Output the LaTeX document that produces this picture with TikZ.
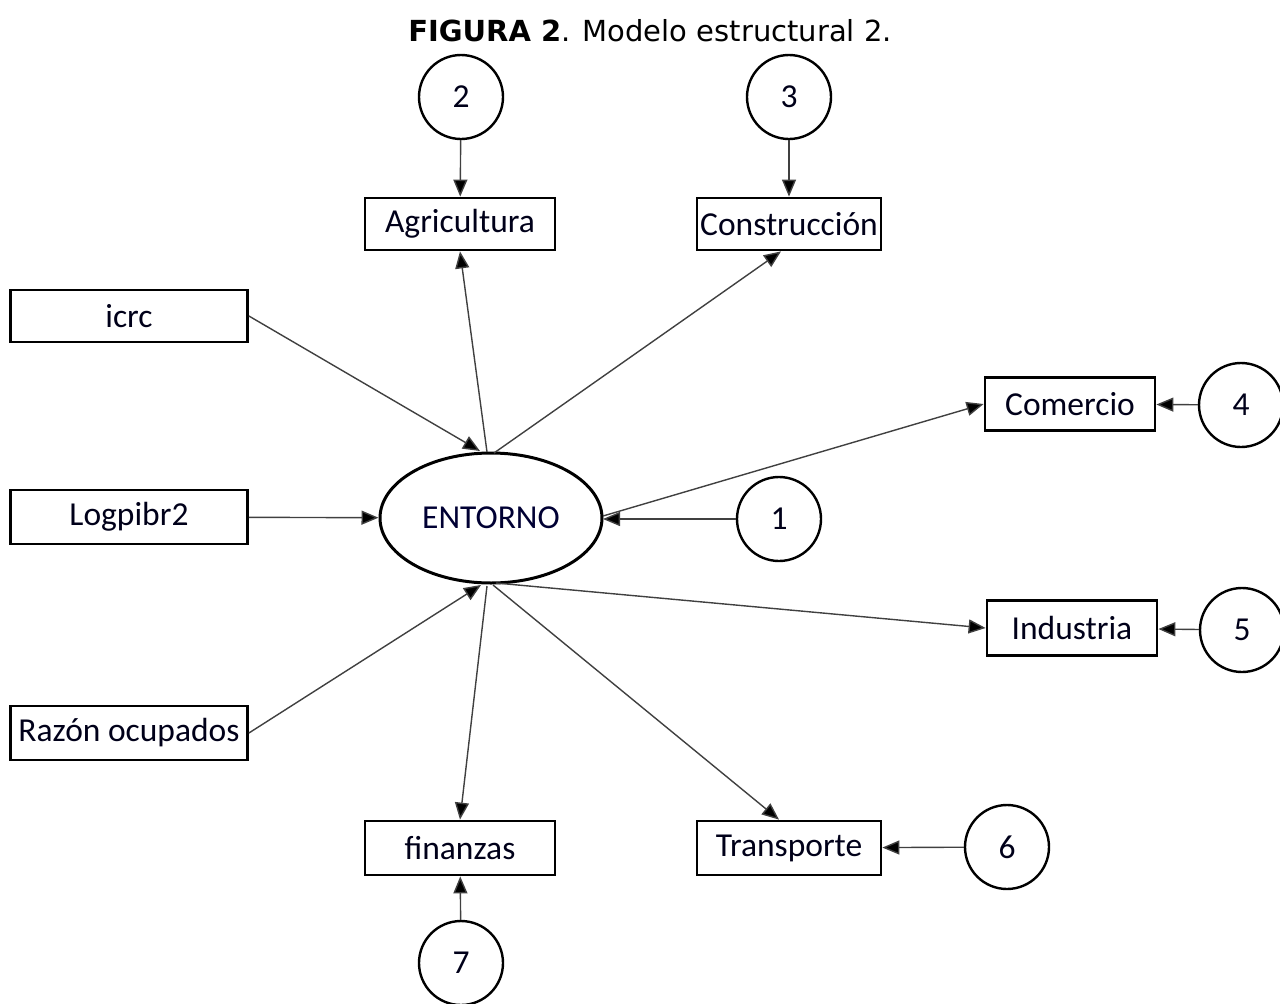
\documentclass[tikz,border=0pt]{standalone}
\usepackage{fontspec}
\setmainfont{Carlito}
\newfontfamily\titlefont{DejaVu Sans}
\usetikzlibrary{arrows.meta,shapes.geometric,calc}
\begin{document}
\begin{tikzpicture}[x=1pt,y=-1pt,
  var/.style={draw=black,line width=2.8pt,rectangle,inner sep=0pt,font=\fontsize{33.5}{36}\selectfont,text=black!90!blue},
  err/.style={draw=black,line width=2.4pt,circle,minimum size=84pt,inner sep=0pt,font=\fontsize{33.5}{36}\selectfont,text=black!90!blue},
  lat/.style={draw=black,line width=3pt,ellipse,minimum width=222pt,minimum height=130pt,inner sep=0pt,font=\fontsize{33.5}{36}\selectfont,text=black!80!blue},
  conn/.style={draw=black!75,line width=1.4pt,-{Triangle[length=17pt,width=14pt,fill=black]}}
]
\useasboundingbox (0,0) rectangle (1280,1004);
\node[font=\titlefont\fontsize{29}{32}\selectfont] (title) at (650,31) {\textbf{FIGURA 2}. Modelo estructural 2.};

\node[err] (c2) at (461,97) {2};
\node[err] (c3) at (789,97) {3};
\node[err] (c4) at (1241,405) {4};
\node[err] (c1) at (779,519) {1};
\node[err] (c5) at (1242,630) {5};
\node[err] (c6) at (1007,847) {6};
\node[err] (c7) at (461,963) {7};

\node[var,minimum width=190pt,minimum height=52pt] (agri) at (460,224) {Agricultura};
\node[var,minimum width=184pt,minimum height=52pt] (cons) at (789,224) {Construcción};
\node[var,minimum width=237pt,minimum height=52pt] (icrc) at (129,316) {icrc};
\node[var,minimum width=170pt,minimum height=53pt] (come) at (1070,404) {Comercio};
\node[var,minimum width=237pt,minimum height=54pt] (logp) at (129,517) {Logpibr2};
\node[var,minimum width=170pt,minimum height=55pt] (indu) at (1072,628) {Industria};
\node[var,minimum width=237pt,minimum height=54pt] (razo) at (129,733) {Razón ocupados};
\node[var,minimum width=190pt,minimum height=54pt] (fina) at (460,848) {finanzas};
\node[var,minimum width=184pt,minimum height=54pt] (tran) at (789,848) {Transporte};

\node[lat] (E) at (491,518) {ENTORNO};

\coordinate (Etin) at (480,451);
\coordinate (Eta) at (487,452);
\coordinate (Etc) at (494,453);
\coordinate (Ebin) at (481,585);
\coordinate (Ebf) at (487,586);
\coordinate (Ebt) at (493,585);
\coordinate (Ebi) at (496,583);
\coordinate (Eec) at (603,516);
\coordinate (Eei) at (603,519);

\draw[conn] (c2) -- (agri);
\draw[conn] (c3) -- (cons);
\draw[conn] (c4) -- (come);
\draw[conn] (c5) -- (indu);
\draw[conn] (c6) -- (tran);
\draw[conn] (c7) -- (fina);
\draw[conn] (c1) -- (Eei);

\draw[conn] (icrc.east) -- (Etin);
\draw[conn] (logp) -- (E);
\draw[conn] (razo.east) -- (Ebin);

\draw[conn] (Eta) -- (agri.south);
\draw[conn] (Etc) -- ($(cons.south)+(-8,0)$) coordinate (cs);
\draw[conn] (Eec) -- (come.west);
\draw[conn] (Ebi) -- (indu.west);
\draw[conn] (Ebf) -- (fina.north);
\draw[conn] (Ebt) -- ($(tran.north)+(-10,0)$) coordinate (tn);
\end{tikzpicture}
\end{document}
